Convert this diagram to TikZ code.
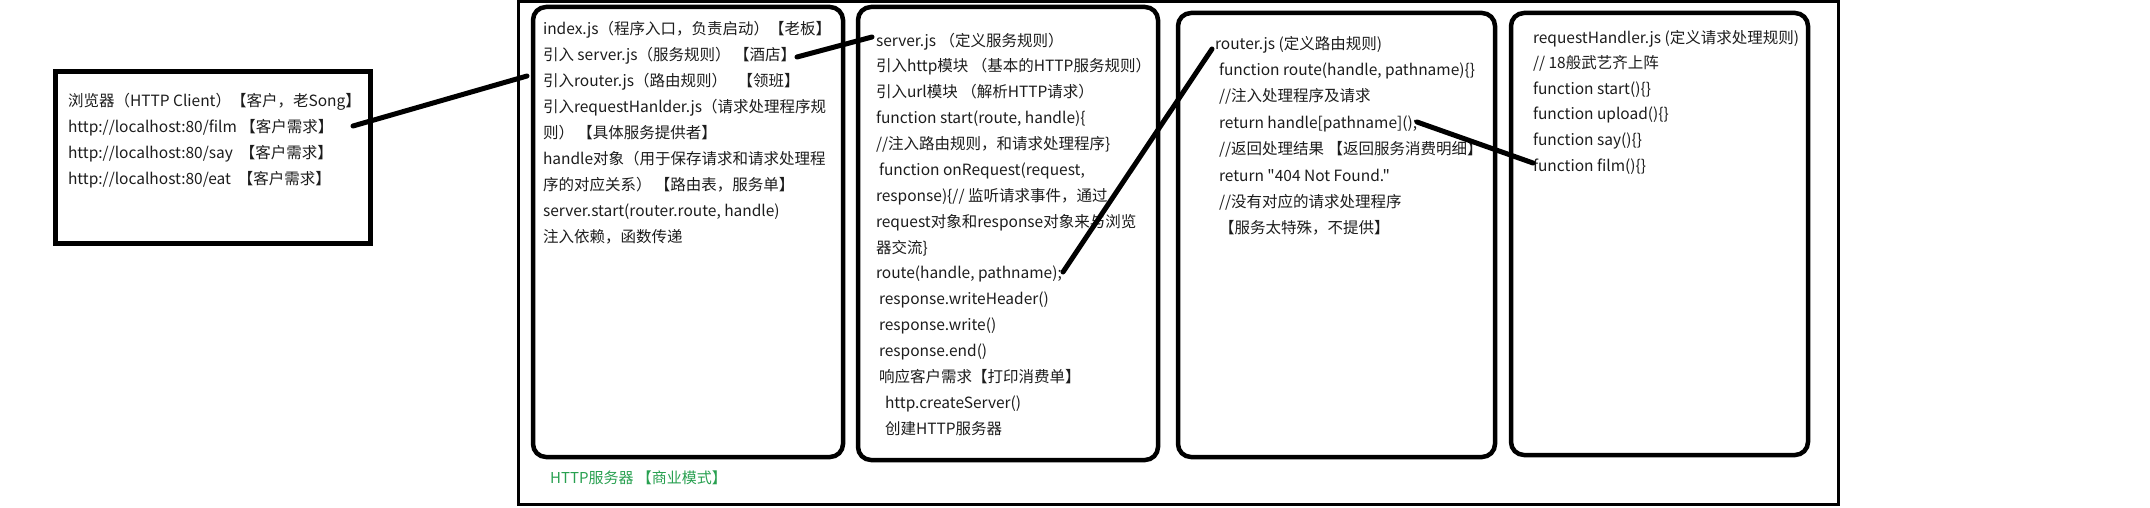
\documentclass[tikz,border=0pt]{standalone}
\usepackage{fontspec}
\setmainfont{Noto Sans CJK SC}[Ligatures=TeXOff]
\definecolor{txtcol}{RGB}{28,28,28}
\definecolor{greencol}{RGB}{40,160,80}
\begin{document}
\begin{tikzpicture}[x=1pt,y=-1pt,
  rbox/.style={draw=black, line width=4.5pt, rounded corners=13pt, anchor=north west, inner sep=0pt, outer sep=0pt},
  sqbox/.style={draw=black, line width=5pt, anchor=north west, inner sep=0pt, outer sep=0pt},
  txt/.style={anchor=north west, inner sep=0pt, outer sep=0pt, align=left, text=txtcol},
  link/.style={draw=black, line width=5pt, line cap=round},
]
\useasboundingbox (0,0) rectangle (2150,508);

% outer HTTP server frame
\node[draw=black, line width=3pt, anchor=north west, inner sep=0pt, outer sep=0pt,
      minimum width=1320pt, minimum height=502.5pt] (frame) at (518,1.5) {};

% browser box
\node[sqbox, minimum width=315pt, minimum height=171pt] (browser) at (55,72) {};
\node[txt, font=\fontsize{15.5}{26}\selectfont] (browsertxt) at (68,91.1) {\rule{0pt}{15pt}浏览器（HTTP Client）【客户，老Song】\\
http://localhost:80/film 【客户需求】\\
http://localhost:80/say \ 【客户需求】\\
http://localhost:80/eat \ 【客户需求】};

% index.js box
\node[rbox, minimum width=310pt, minimum height=450pt] (index) at (533,7) {};
\node[txt, font=\fontsize{15.5}{26.1}\selectfont] (indextxt) at (543,19.1) {\rule{0pt}{15pt}index.js（程序入口，负责启动）【老板】\\
引入 server.js（服务规则） 【酒店】\\
引入router.js（路由规则） \ \ 【领班】\\
引入requestHanlder.js（请求处理程序规\\
则） 【具体服务提供者】\\
handle对象（用于保存请求和请求处理程\\
序的对应关系） 【路由表，服务单】\\
server.start(router.route, handle)\\
注入依赖，函数传递};

% server.js box
\node[rbox, minimum width=300pt, minimum height=453pt] (server) at (858,7) {};
\node[txt, font=\fontsize{15.5}{25.87}\selectfont] (servertxt) at (876,31.1) {\rule{0pt}{15pt}server.js （定义服务规则）\\
引入http模块 （基本的HTTP服务规则）\\
引入url模块 （解析HTTP请求）\\
function start(route, handle)\{\\
//注入路由规则，和请求处理程序\}\\
\hspace*{3pt}function onRequest(request,\\
response)\{// 监听请求事件，通过\\
request对象和response对象来与浏览\\
器交流\}\\
route(handle, pathname);\\
\hspace*{3pt}response.writeHeader()\\
\hspace*{3pt}response.write()\\
\hspace*{3pt}response.end()\\
\hspace*{3pt}响应客户需求【打印消费单】\\
\hspace*{9pt}http.createServer()\\
\hspace*{9pt}创建HTTP服务器};

% router.js box
\node[rbox, minimum width=317pt, minimum height=444pt] (router) at (1178,13) {};
\node[txt, font=\fontsize{15.5}{26.4}\selectfont] (routertxt) at (1215,34.1) {\rule{0pt}{15pt}router.js (定义路由规则)\\
\hspace*{4pt}function route(handle, pathname)\{\}\\
\hspace*{4pt}//注入处理程序及请求\\
\hspace*{4pt}return handle[pathname]();\\
\hspace*{4pt}//返回处理结果 【返回服务消费明细】\\
\hspace*{4pt}return "404 Not Found."\\
\hspace*{4pt}//没有对应的请求处理程序\\
\hspace*{4pt}【服务太特殊，不提供】};

% requestHandler.js box
\node[rbox, minimum width=297pt, minimum height=442pt] (handler) at (1511,13) {};
\node[txt, font=\fontsize{15.5}{25.6}\selectfont] (handlertxt) at (1533,28.1) {\rule{0pt}{15pt}requestHandler.js (定义请求处理规则)\\
// 18般武艺齐上阵\\
function start()\{\}\\
function upload()\{\}\\
function say()\{\}\\
function film()\{\}};

% green caption
\node[anchor=west, inner sep=0pt, text=greencol, font=\fontsize{15}{18}\selectfont] (caption) at (550,478) {HTTP服务器 【商业模式】};

% connector end points
\coordinate (browserEnd) at (353,126);
\coordinate (indexIn) at (527,76);
\coordinate (hotelEnd) at (797,57);
\coordinate (serverIn) at (872,37);
\coordinate (routeCall) at (1063,272);
\coordinate (routerIn) at (1212,49);
\coordinate (handleCall) at (1417,122);
\coordinate (filmIn) at (1533,163);

\draw[link] (browserEnd) -- (indexIn);
\draw[link] (hotelEnd) -- (serverIn);
\draw[link] (routeCall) -- (routerIn);
\draw[link] (handleCall) -- (filmIn);
\end{tikzpicture}
\end{document}
